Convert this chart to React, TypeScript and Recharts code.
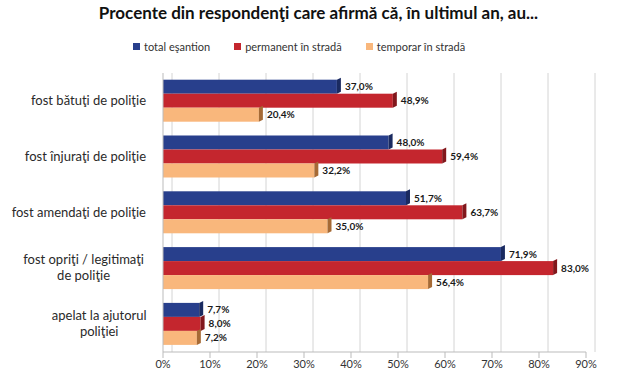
import React from "react";
import {
  BarChart,
  Bar,
  XAxis,
  YAxis,
  CartesianGrid,
  LabelList,
  Legend,
} from "recharts";

const categories = [
  "fost bătuţi de poliţie",
  "fost înjuraţi de poliţie",
  "fost amendaţi de poliţie",
  "fost opriţi / legitimaţi|de poliţie",
  "apelat la ajutorul|poliţiei",
];
const totalEsantion = [37.0, 48.0, 51.7, 71.9, 7.7];
const permanentStrada = [48.9, 59.4, 63.7, 83.0, 8.0];
const temporarStrada = [20.4, 32.2, 35.0, 56.4, 7.2];
const xTicks = [0, 10, 20, 30, 40, 50, 60, 70, 80, 90];
const X_MAX = 90;

const SERIES = [
  { key: "total", name: "total eşantion", color: "#283F8C", dark: "#1A2A60" },
  { key: "perm", name: "permanent în stradă", color: "#C4262E", dark: "#82171C" },
  { key: "temp", name: "temporar în stradă", color: "#F9B77C", dark: "#A66A35" },
];

const data = categories.map((c, i) => ({
  name: c,
  total: totalEsantion[i],
  perm: permanentStrada[i],
  temp: temporarStrada[i],
}));

const FONT = "Lato, 'Open Sans', sans-serif";
const DEPTH = 4;

const fmt = (v: number) => v.toFixed(1).replace(".", ",") + "%";

function makeShape(color: string, dark: string) {
  return (props: any) => {
    const { x, y, width, height } = props;
    if (width == null || height == null) return null;
    const r = x + width;
    return (
      <g>
        <rect x={x} y={y} width={width} height={height} fill={color} />
        <polygon
          points={`${r},${y} ${r + DEPTH},${y - 2} ${r + DEPTH},${y + height - 2} ${r},${y + height}`}
          fill={dark}
        />
      </g>
    );
  };
}

const CategoryTick = (props: any) => {
  const { x, y, payload } = props;
  const lines = String(payload.value).split("|");
  const maxLen = Math.max(...lines.map((l) => l.length));
  const blockW = maxLen * 5.2;
  const right = x - 9;
  const lh = 16;
  const startY = y - ((lines.length - 1) * lh) / 2;
  return (
    <g>
      {lines.map((l, i) => (
        <text
          key={i}
          x={lines.length > 1 ? right - blockW / 2 : right}
          y={startY + i * lh}
          dy={4}
          textAnchor={lines.length > 1 ? "middle" : "end"}
          fontFamily={FONT}
          fontSize={13}
          fill="#2a2a2a"
        >
          {l}
        </text>
      ))}
    </g>
  );
};

const LegendContent = () => (
  <div
    style={{
      display: "flex",
      justifyContent: "flex-start",
      gap: 24,
      fontFamily: FONT,
      fontSize: 11,
      color: "#333",
      paddingLeft: 133,
    }}
  >
    {SERIES.map((s) => (
      <span key={s.key} style={{ display: "flex", alignItems: "center" }}>
        <span
          style={{
            width: 7,
            height: 7,
            background: s.color,
            display: "inline-block",
            marginRight: 4,
          }}
        />
        {s.name}
      </span>
    ))}
  </div>
);

// back-wall gridlines, shifted right for the 3D look
const gridGen = (p: any) => {
  const scale = p?.xAxis?.scale;
  return xTicks.map((t) =>
    typeof scale === "function"
      ? scale(t) + 9
      : p.offset.left + (t / X_MAX) * p.offset.width + 9
  );
};

export default function App() {
  return (
    <div
      style={{
        position: "absolute",
        left: 0,
        top: 0,
        width: 627,
        height: 378,
        background: "#fff",
      }}
    >
      <div
        style={{
          position: "absolute",
          top: 2,
          left: 5,
          width: 627,
          textAlign: "center",
          fontFamily: FONT,
          fontWeight: 700,
          fontSize: 17,
          color: "#111",
        }}
      >
        Procente din respondenţi care afirmă că, în ultimul an, au...
      </div>
      <BarChart
        width={627}
        height={378}
        data={data}
        layout="vertical"
        margin={{ top: 60, right: 41, bottom: 6, left: 0 }}
        barCategoryGap="12%"
        barGap={0}
      >
        <CartesianGrid
          horizontal={false}
          stroke="#d4d4d4"
          verticalCoordinatesGenerator={gridGen}
        />
        <XAxis
          type="number"
          domain={[0, X_MAX]}
          ticks={xTicks}
          tickFormatter={(v: number) => `${v}%`}
          tick={{ fontFamily: FONT, fontSize: 11, fill: "#333" }}
          axisLine={{ stroke: "#bbb" }}
          tickLine={{ stroke: "#bbb" }}
          height={20}
          interval={0}
        />
        <YAxis
          type="category"
          dataKey="name"
          width={163}
          tick={<CategoryTick />}
          axisLine={{ stroke: "#bbb" }}
          tickLine={false}
          interval={0}
        />
        <Legend
          verticalAlign="top"
          content={<LegendContent />}
          wrapperStyle={{ top: 40, left: 0, width: 627 }}
        />
        {SERIES.map((s) => (
          <Bar
            key={s.key}
            dataKey={s.key}
            name={s.name}
            fill={s.color}
            isAnimationActive={false}
            shape={makeShape(s.color, s.dark)}
          >
            <LabelList
              dataKey={s.key}
              position="right"
              offset={8}
              formatter={(v: any) => fmt(Number(v))}
              style={{
                fontFamily: FONT,
                fontSize: 10,
                fontWeight: 700,
                fill: "#1a1a1a",
              }}
            />
          </Bar>
        ))}
      </BarChart>
    </div>
  );
}
